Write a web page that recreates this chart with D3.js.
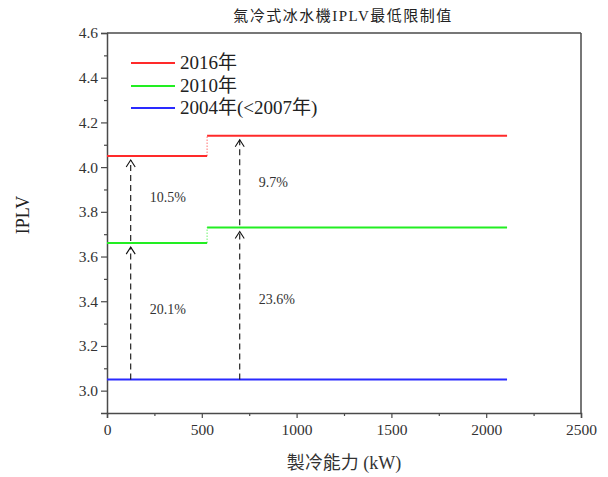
<!DOCTYPE html>
<html><head><meta charset="utf-8">
<script src="https://cdn.jsdelivr.net/npm/d3@7"></script>
<style>
html,body{margin:0;padding:0;background:#fff;}
svg{display:block;}
</style></head>
<body>
<svg id="chart" width="608" height="477"></svg>
<script>
// ---- data ----
const seriesNames = ["2016年", "2010年", "2004年(<2007年)"];
const seriesColors = ["#ff2a2a", "#22ee22", "#2a2aff"];
const stepBreaks = [0, 528, 2110];           // kW: start, step, end
const iplv2016 = [4.05, 4.14];
const iplv2010 = [3.66, 3.73];
const iplv2004 = [3.05, 3.05];
const arrowX = [125, 700];                    // kW positions of arrows
const pctLabels = ["10.5%", "9.7%", "20.1%", "23.6%"];
const pctX = [226, 800, 226, 800];
const pctY = [3.866, 3.935, 3.365, 3.41];
const xTicks = [0, 500, 1000, 1500, 2000, 2500];
const xMinor = [250, 750, 1250, 1750, 2250];
const yTicks = [3.0, 3.2, 3.4, 3.6, 3.8, 4.0, 4.2, 4.4, 4.6];
const yMinor = [3.1, 3.3, 3.5, 3.7, 3.9, 4.1, 4.3, 4.5];

const SERIF = "'Liberation Serif', 'Times New Roman', 'Noto Sans CJK TC', serif";
const svg = d3.select("#chart");
const L = 107, R = 581, T = 33, B = 413;
const x = d3.scaleLinear().domain([0, 2500]).range([L, R]);
const y = d3.scaleLinear().domain([2.9, 4.6]).range([B, T]);
const axisColor = "#4a4a4a";

// title
svg.append("text").attr("x", 343).attr("y", 21).attr("text-anchor", "middle")
  .style("font-family", SERIF).style("font-size", "15px").attr("fill", "#222")
  .attr("letter-spacing", 1.5)
  .text("氣冷式冰水機IPLV最低限制值");

// frame (top & right)
svg.append("line").attr("x1", L).attr("x2", R).attr("y1", T).attr("y2", T)
  .attr("stroke", axisColor).attr("stroke-width", 1.5);
svg.append("line").attr("x1", R).attr("x2", R).attr("y1", T).attr("y2", B)
  .attr("stroke", axisColor).attr("stroke-width", 1.5);

// axes
const gx = svg.append("g").attr("transform", `translate(0,${B})`)
  .call(d3.axisBottom(x).tickValues(xTicks).tickFormat(d3.format("d")).tickSize(5).tickPadding(6));
const gxm = svg.append("g").attr("transform", `translate(0,${B})`)
  .call(d3.axisBottom(x).tickValues(xMinor).tickFormat("").tickSize(3));
const gy = svg.append("g").attr("transform", `translate(${L},0)`)
  .call(d3.axisLeft(y).tickValues(yTicks).tickFormat(d3.format(".1f")).tickSize(6).tickPadding(3));
const gym = svg.append("g").attr("transform", `translate(${L},0)`)
  .call(d3.axisLeft(y).tickValues(yMinor).tickFormat("").tickSize(3));
[gx, gxm, gy, gym].forEach(g => {
  g.select(".domain").attr("stroke", axisColor).attr("stroke-width", 1.5);
  g.selectAll(".tick line").attr("stroke", axisColor).attr("stroke-width", 1.2);
  g.selectAll(".tick text").attr("fill", "#333")
    .style("font-size", "15.5px").style("font-family", SERIF);
});
gxm.select(".domain").remove();
gym.select(".domain").remove();

// axis titles
svg.append("text").attr("x", 344).attr("y", 469).attr("text-anchor", "middle")
  .style("font-family", SERIF).style("font-size", "18px").attr("fill", "#333").text("製冷能力 (kW)");
svg.append("text").attr("transform", "translate(29,215) rotate(-90)")
  .attr("text-anchor", "middle").style("font-family", SERIF).style("font-size", "18px")
  .attr("fill", "#222").text("IPLV");

// step lines
const allSeries = [iplv2016, iplv2010, iplv2004];
allSeries.forEach((vals, i) => {
  const g = svg.append("g");
  if (vals[0] !== vals[1]) {
    g.append("line").attr("x1", x(stepBreaks[0])).attr("x2", x(stepBreaks[1]))
      .attr("y1", y(vals[0])).attr("y2", y(vals[0]))
      .attr("stroke", seriesColors[i]).attr("stroke-width", 2);
    g.append("line").attr("x1", x(stepBreaks[1])).attr("x2", x(stepBreaks[1]))
      .attr("y1", y(vals[0])).attr("y2", y(vals[1]))
      .attr("stroke", seriesColors[i]).attr("stroke-width", 1.2)
      .attr("stroke-dasharray", "1.5,1.5").attr("opacity", 0.55);
    g.append("line").attr("x1", x(stepBreaks[1])).attr("x2", x(stepBreaks[2]))
      .attr("y1", y(vals[1])).attr("y2", y(vals[1]))
      .attr("stroke", seriesColors[i]).attr("stroke-width", 2);
  } else {
    g.append("line").attr("x1", x(stepBreaks[0])).attr("x2", x(stepBreaks[2]))
      .attr("y1", y(vals[0])).attr("y2", y(vals[0]))
      .attr("stroke", seriesColors[i]).attr("stroke-width", 2);
  }
});

// arrows
function arrow(xv, from, to) {
  const px = x(xv), y0 = y(from), y1 = y(to) + 4;
  svg.append("line").attr("x1", px).attr("x2", px).attr("y1", y0).attr("y2", y1)
    .attr("stroke", "#111").attr("stroke-width", 1.1).attr("stroke-dasharray", "6,4");
  svg.append("path")
    .attr("d", `M${px - 4.5},${y1 + 7} L${px},${y1} L${px + 4.5},${y1 + 7}`)
    .attr("fill", "none").attr("stroke", "#111").attr("stroke-width", 1.1);
}
arrowX.forEach((ax) => {
  const seg = ax < stepBreaks[1] ? 0 : 1;
  arrow(ax, iplv2004[seg], iplv2010[seg]);
  arrow(ax, iplv2010[seg] + 0.01, iplv2016[seg]);
});

// percent labels
pctLabels.forEach((t, i) => {
  svg.append("text").attr("x", x(pctX[i])).attr("y", y(pctY[i]) + 5)
    .style("font-family", SERIF).style("font-size", "14px").attr("fill", "#333").text(t);
});

// legend
const legY = [63, 86, 108];
seriesNames.forEach((n, i) => {
  svg.append("line").attr("x1", 131).attr("x2", 175).attr("y1", legY[i]).attr("y2", legY[i])
    .attr("stroke", seriesColors[i]).attr("stroke-width", 2);
  svg.append("text").attr("x", 180).attr("y", legY[i] + 6)
    .style("font-family", SERIF).style("font-size", "19px")
    .attr("fill", "#222").text(n);
});
</script>
</body></html>
